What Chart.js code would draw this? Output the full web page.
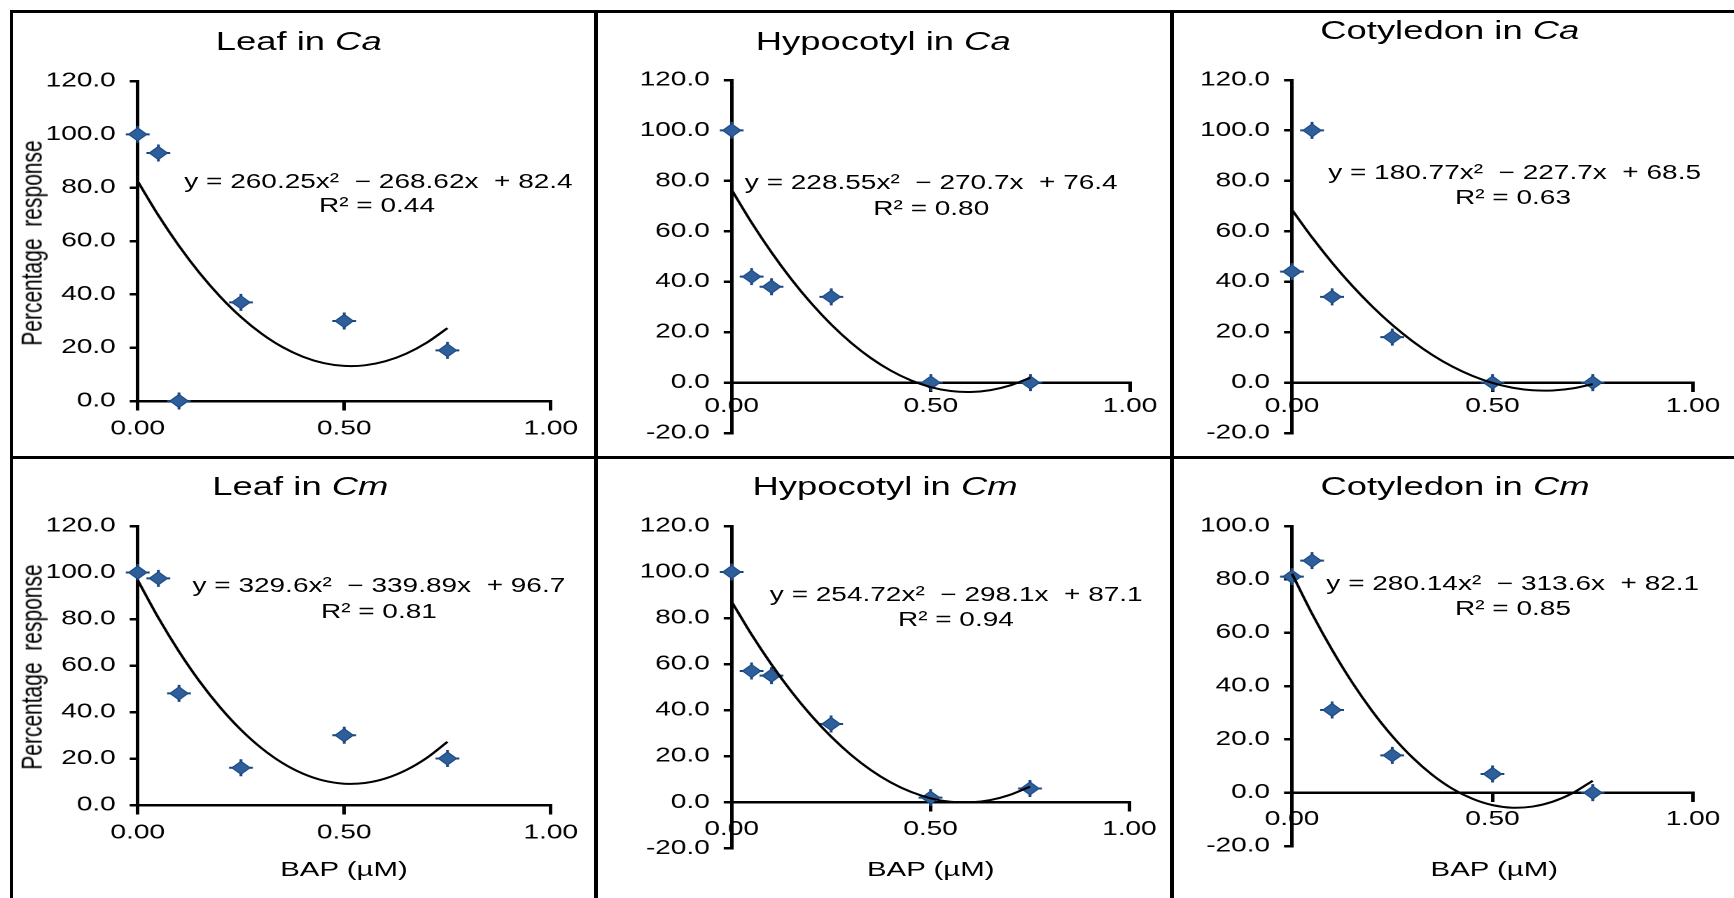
<!DOCTYPE html>
<html>
<head>
<meta charset="utf-8">
<script src="https://cdn.jsdelivr.net/npm/chart.js@4.4.1/dist/chart.umd.min.js"></script>
<style>
html,body{margin:0;padding:0;background:#fff;}
body{width:1734px;height:898px;overflow:hidden;position:relative;font-family:"Liberation Sans",Arial,sans-serif;}
#stretch{position:absolute;left:0;top:0;width:1238.6px;height:898px;transform:scaleX(1.4);transform-origin:0 0;}
#frame{position:absolute;left:0;top:0;width:1734px;height:898px;pointer-events:none;}
.cv{position:absolute;}
.t{position:absolute;transform:translate(-50%,-50%);white-space:pre;line-height:1;color:#000;}
.rot{position:absolute;transform:translate(-50%,-50%) rotate(-90deg);white-space:pre;line-height:1;color:#000;}
.ln{position:absolute;background:#000;}
</style>
</head>
<body>
<div id="stretch"></div>
<div id="frame"></div>
<script>
// ---------- data ----------
const doseX = [0, 0.05, 0.1, 0.25, 0.5, 0.75];
const leafCa = [100, 93, 0, 37, 30, 19];
const hypocotylCa = [100, 42, 38, 34, 0, 0];
const cotyledonCa = [44, 100, 34, 18, 0, 0];
const leafCm = [100, 97.5, 48, 16, 30, 20];
const hypocotylCm = [100, 57, 55, 34, 2, 6];
const cotyledonCm = [81, 87, 31, 14, 7, 0];

// polynomial trendline
const trendX = [0, 0.05, 0.1, 0.15, 0.2, 0.25, 0.3, 0.35, 0.4, 0.45, 0.5, 0.55, 0.6, 0.65, 0.7, 0.75];
const leafCaFit = [82.4, 69.62, 58.14, 47.96, 39.09, 31.51, 25.24, 20.26, 16.59, 14.22, 13.15, 13.38, 14.92, 17.75, 21.89, 27.33];
const hypocotylCaFit = [76.4, 63.44, 51.62, 40.94, 31.40, 23.01, 15.76, 9.65, 4.69, 0.87, -1.81, -3.35, -3.74, -2.99, -1.10, 1.93];
const cotyledonCaFit = [68.5, 57.57, 47.54, 38.41, 30.19, 22.87, 16.46, 10.95, 6.34, 2.64, -0.16, -2.05, -3.04, -3.13, -2.31, -0.59];
const leafCmFit = [96.7, 80.53, 66.01, 53.13, 41.91, 32.33, 24.40, 18.11, 13.48, 10.49, 9.16, 9.46, 11.42, 15.03, 20.28, 27.18];
const hypocotylCmFit = [87.1, 72.83, 59.84, 48.12, 37.67, 28.50, 20.59, 13.97, 8.62, 4.54, 1.73, 0.20, -0.06, 0.95, 3.24, 6.81];
const cotyledonCmFit = [82.1, 67.12, 53.54, 41.36, 30.59, 21.21, 13.23, 6.66, 1.48, -2.29, -4.67, -5.64, -5.21, -3.38, -0.15, 4.48];

const panelTitles = [["Leaf in ", "Ca"], ["Hypocotyl in ", "Ca"], ["Cotyledon in ", "Ca"],
                     ["Leaf in ", "Cm"], ["Hypocotyl in ", "Cm"], ["Cotyledon in ", "Cm"]];
const equations = ["y = 260.25x²  − 268.62x  + 82.4", "y = 228.55x²  − 270.7x  + 76.4", "y = 180.77x²  − 227.7x  + 68.5",
                   "y = 329.6x²  − 339.89x  + 96.7", "y = 254.72x²  − 298.1x  + 87.1", "y = 280.14x²  − 313.6x  + 82.1"];
const rSquared = ["R² = 0.44", "R² = 0.80", "R² = 0.63", "R² = 0.81", "R² = 0.94", "R² = 0.85"];
const yRanges = [[0, 120], [-20, 120], [-20, 120], [0, 120], [-20, 120], [-20, 100]];
const xRange = [0, 1];
const yAxisTitle = "Percentage  response";
const xAxisTitle = "BAP (µM)";

// ---------- layout (unstretched x units, px for y) ----------
const S = 1.4;
const FONT = '"Liberation Sans", Arial, sans-serif';
const YW = 70;
const panels = [
  {vals: leafCa, fit: leafCaFit, box: [9.5, 14, 413, 441], area: [137, 81, 550, 401], xpad: 8,
   title: [298.7, 40.7], eq: [378.5, 180.5], r2: [377, 205.3], ytitle: [30.9, 243]},
  {vals: hypocotylCa, fit: hypocotylCaFit, box: [429, 14, 406, 441], area: [731.7, 80, 1130, 436.6], xpad: 4,
   title: [883.2, 40.7], eq: [931.3, 182], r2: [931.3, 208]},
  {vals: cotyledonCa, fit: cotyledonCaFit, box: [840, 14, 398, 441], area: [1292, 80, 1693, 434.5], xpad: 4,
   title: [1449.8, 29.7], eq: [1514.6, 172], r2: [1513, 196.5]},
  {vals: leafCm, fit: leafCmFit, box: [9.5, 460, 413, 438], area: [137, 526, 550, 805], xpad: 8,
   title: [300.4, 486.3], eq: [378.9, 585.3], r2: [378.9, 611.3], ytitle: [30.9, 666.7], xtitle: [344, 868]},
  {vals: hypocotylCm, fit: hypocotylCmFit, box: [429, 460, 406, 438], area: [731.7, 526, 1129.4, 848.3], xpad: 7,
   title: [885, 486.3], eq: [956.3, 594], r2: [955.9, 619.2], xtitle: [930.7, 868]},
  {vals: cotyledonCm, fit: cotyledonCmFit, box: [840, 460, 398, 438], area: [1292, 526, 1693, 846], xpad: 7,
   title: [1455, 486.3], eq: [1512.8, 582.8], r2: [1513, 608], xtitle: [1494.3, 868]}
];

const stretch = document.getElementById('stretch');

function addText(cls, html, xFull, y, size, extra) {
  const d = document.createElement('div');
  d.className = cls;
  d.innerHTML = html;
  d.style.left = (xFull / S) + 'px';
  d.style.top = y + 'px';
  d.style.fontSize = size + 'px';
  if (extra) Object.assign(d.style, extra);
  stretch.appendChild(d);
}

panels.forEach((p, i) => {
  const cv = document.createElement('canvas');
  cv.className = 'cv';
  cv.width = p.box[2];
  cv.height = p.box[3];
  cv.style.left = p.box[0] + 'px';
  cv.style.top = p.box[1] + 'px';
  stretch.appendChild(cv);

  const L = p.area[0] / S, T = p.area[1], R = p.area[2] / S, B = p.area[3];
  const pts = doseX.map((x, k) => ({x: x, y: p.vals[k]}));
  const fitPts = trendX.map((x, k) => ({x: x, y: p.fit[k]}));

  new Chart(cv, {
    type: 'scatter',
    data: {
      datasets: [
        {data: fitPts, showLine: true, borderColor: '#000', borderWidth: 2, pointRadius: 0,
         tension: 0.3, fill: false, order: 0, clip: false},
        {data: pts, pointStyle: 'rectRot', pointRadius: 6.5, backgroundColor: '#2F5F9B',
         borderColor: '#1C4A85', borderWidth: 1, order: 1, clip: false},
        {data: pts, pointStyle: 'cross', pointRadius: 8.5, borderColor: '#1B4682',
         borderWidth: 2, order: 2, clip: false}
      ]
    },
    options: {
      responsive: false,
      animation: false,
      devicePixelRatio: 2,
      events: [],
      layout: {padding: {
        left: L - p.box[0] - YW,
        right: p.box[0] + p.box[2] - R,
        top: T - p.box[1],
        bottom: p.box[1] + p.box[3] - B
      }},
      plugins: {legend: {display: false}, tooltip: {enabled: false}, title: {display: false}},
      scales: {
        x: {
          type: 'linear', min: xRange[0], max: xRange[1], position: {y: 0},
          ticks: {stepSize: 0.5, autoSkip: false, maxRotation: 0, padding: p.xpad, color: '#000',
                  font: {family: FONT, size: 20}, callback: v => Number(v).toFixed(2)},
          grid: {drawOnChartArea: false, drawTicks: true, tickLength: 8, color: '#000', lineWidth: 2.5},
          border: {display: true, color: '#000', width: 2.5}
        },
        y: {
          type: 'linear', min: yRanges[i][0], max: yRanges[i][1], position: 'left',
          afterFit: sc => { sc.width = YW; },
          ticks: {stepSize: 20, autoSkip: false, padding: 10, color: '#000',
                  font: {family: FONT, size: 20}, callback: v => Number(v).toFixed(1)},
          grid: {drawOnChartArea: false, drawTicks: true, tickLength: 5.7, color: '#000', lineWidth: 2.5},
          border: {display: true, color: '#000', width: 2.5}
        }
      }
    }
  });

  addText('t', panelTitles[i][0] + '<i>' + panelTitles[i][1] + '</i>', p.title[0], p.title[1], 26);
  addText('t', equations[i], p.eq[0], p.eq[1], 20);
  addText('t', rSquared[i], p.r2[0], p.r2[1], 20);
  if (p.ytitle) addText('rot', yAxisTitle, p.ytitle[0], p.ytitle[1], 21);
  if (p.xtitle) addText('t', xAxisTitle, p.xtitle[0], p.xtitle[1], 21);
});

// ---------- frame lines (full-size coordinates) ----------
const frame = document.getElementById('frame');
[[9.5, 10, 1724.5, 3], [9.5, 10, 3.5, 888], [593.5, 10, 4, 888], [1170, 10, 3.5, 888], [9.5, 456, 1724.5, 3]]
  .forEach(r => {
    const d = document.createElement('div');
    d.className = 'ln';
    d.style.left = r[0] + 'px'; d.style.top = r[1] + 'px';
    d.style.width = r[2] + 'px'; d.style.height = r[3] + 'px';
    frame.appendChild(d);
  });
</script>
</body>
</html>
